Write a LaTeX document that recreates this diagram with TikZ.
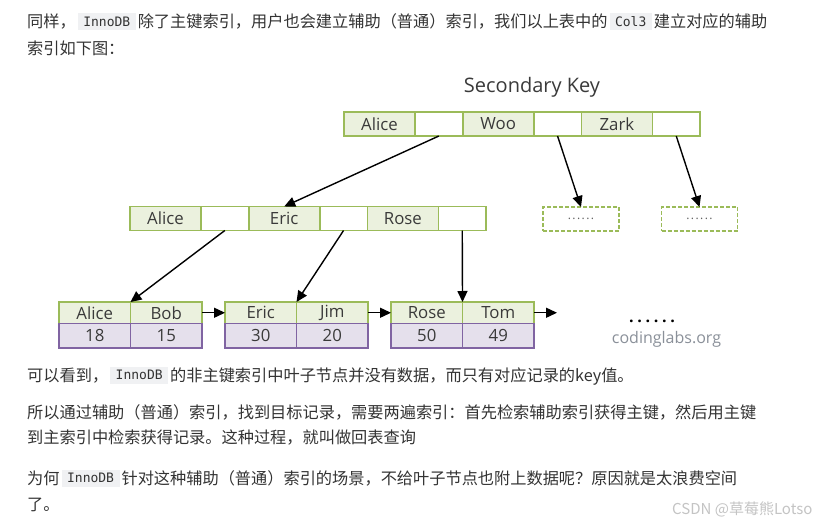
\documentclass[tikz,border=0pt]{standalone}
\usepackage{fontspec}
\setmainfont{Open Sans}
\newfontfamily\cjkfont{Noto Sans CJK SC}
\newfontfamily\monofont{DejaVu Sans Mono}
\newfontfamily\diagfont{Open Sans}
\usetikzlibrary{arrows.meta}
\definecolor{gline}{HTML}{9BBB59}
\definecolor{gfill}{HTML}{EBF1DE}
\definecolor{pline}{HTML}{8064A2}
\definecolor{pfill}{HTML}{E5E0EC}
\definecolor{txt}{HTML}{333333}
\definecolor{codebg}{HTML}{F0F1F3}
\definecolor{dtxt}{HTML}{3A3A3A}
\definecolor{wmcol}{HTML}{C4C4C4}
\definecolor{sitecol}{HTML}{8A9099}
\newcommand{\mycode}[1]{{\setlength{\fboxsep}{0pt}\hspace{2pt}\colorbox{codebg}{\hspace{5.5pt}\rule[-2.3pt]{0pt}{17pt}\raisebox{1.3pt}{\monofont\fontsize{13}{13}\selectfont #1}\hspace{5.5pt}}\hspace{2pt}}}
\tikzset{
  body/.style={anchor=base west, inner sep=0pt, text=txt, font=\cjkfont\fontsize{16.2}{16.2}\selectfont},
  cellbase/.style={draw=gline, line width=1.6pt, minimum height=24pt, inner sep=0pt, outer sep=0pt, anchor=west,
    font=\diagfont\fontsize{16.8}{16.8}\selectfont, text=dtxt},
  keycell/.style={cellbase, fill=gfill, minimum width=71pt},
  ptrcell/.style={cellbase, fill=white, minimum width=47.7pt},
  leafkey/.style={draw=gline, line width=1.6pt, fill=gfill, minimum width=71.5pt, minimum height=21.5pt,
    inner sep=0pt, outer sep=0pt, anchor=north west, font=\diagfont\fontsize{16.8}{16.8}\selectfont, text=dtxt},
  leafval/.style={draw=pline, line width=1.6pt, fill=pfill, minimum width=71.5pt, minimum height=24.5pt,
    inner sep=0pt, outer sep=0pt, anchor=north west, font=\diagfont\fontsize{16.8}{16.8}\selectfont, text=dtxt},
  dashbox/.style={draw=gline, line width=1.6pt, dash pattern=on 4pt off 2pt, minimum width=76pt,
    minimum height=24pt, inner sep=0pt, outer sep=0pt, font=\diagfont\fontsize{12}{12}\selectfont\addfontfeatures{LetterSpace=12}, text=dtxt!80},
  arr/.style={-{Triangle[length=11pt,width=10pt]}, line width=1.4pt, black}
}
\begin{document}
\begin{tikzpicture}[x=1pt,y=-1pt]
\useasboundingbox (0,0) rectangle (821,524);
\fill[white] (0,0) rectangle (821,524);

% paragraph text
\node[body] (p1) at (27,27.9) {同样，\mycode{InnoDB}除了主键索引，用户也会建立辅助（普通）索引，我们以上表中的\mycode{Col3}建立对应的辅助};
\node[body] (p2) at (27,54.2) {索引如下图：};
\node[body] (p3) at (27,381.2) {可以看到，\mycode{InnoDB}的非主键索引中叶子节点并没有数据，而只有对应记录的key值。};
\node[body] (p4) at (27,418.2) {所以通过辅助（普通）索引，找到目标记录，需要两遍索引：首先检索辅助索引获得主键，然后用主键};
\node[body] (p5) at (27,443.2) {到主索引中检索获得记录。这种过程，就叫做回表查询};
\node[body] (p6) at (27,484.2) {为何\mycode{InnoDB}针对这种辅助（普通）索引的场景，不给叶子节点也附上数据呢？原因就是太浪费空间};
\node[body] (p7) at (27,510.7) {了。};
\node[anchor=base west, inner sep=0pt, text=wmcol, font=\cjkfont\fontsize{15}{15}\selectfont] (wm) at (672,514.5) {CSDN @草莓熊Lotso};

% title
\node[font=\diagfont\fontsize{20}{20}\selectfont, text=dtxt] (title) at (532,87) {Secondary Key};

% top row
\node[keycell] (tA) at (344,124) {Alice};
\node[ptrcell] (tp1) at (tA.east) {};
\node[keycell] (tW) at (tp1.east) {Woo};
\node[ptrcell] (tp2) at (tW.east) {};
\node[keycell] (tZ) at (tp2.east) {Zark};
\node[ptrcell] (tp3) at (tZ.east) {};

% middle row
\node[keycell] (mA) at (130,218.5) {Alice};
\node[ptrcell] (mp1) at (mA.east) {};
\node[keycell] (mE) at (mp1.east) {Eric};
\node[ptrcell] (mp2) at (mE.east) {};
\node[keycell] (mR) at (mp2.east) {Rose};
\node[ptrcell] (mp3) at (mR.east) {};

% dashed boxes
\node[dashbox] (d1) at (581,219) {......};
\node[dashbox] (d2) at (699.5,219) {......};

% leaves
\node[leafkey] (l1a) at (59,302) {Alice};
\node[leafkey] (l1b) at (l1a.north east) {Bob};
\node[leafval] (v1a) at (l1a.south west) {18};
\node[leafval] (v1b) at (l1b.south west) {15};

\node[leafkey] (l2a) at (225,302) {Eric};
\node[leafkey] (l2b) at (l2a.north east) {Jim};
\node[leafval] (v2a) at (l2a.south west) {30};
\node[leafval] (v2b) at (l2b.south west) {20};

\node[leafkey] (l3a) at (391,302) {Rose};
\node[leafkey] (l3b) at (l3a.north east) {Tom};
\node[leafval] (v3a) at (l3a.south west) {50};
\node[leafval] (v3b) at (l3b.south west) {49};

\coordinate (out) at (557,312.75);

% dots and site
\node[font=\diagfont\bfseries\fontsize{16}{16}\selectfont\addfontfeatures{LetterSpace=23}, text=black] (dots) at (652,321) {......};
\node[font=\diagfont\fontsize{16}{16}\selectfont, text=sitecol] (site) at (666.5,339) {codinglabs.org};

% connectors
\draw[arr] (tp1.south) -- (mE.north);
\draw[arr] (tp2.south) -- (d1.north);
\draw[arr] (tp3.south) -- (d2.north);
\draw[arr] (mp1.south) -- (l1a.north east);
\draw[arr] (mp2.south) -- (l2a.north east);
\draw[arr] (mp3.south) -- (l3a.north east);
\draw[arr] (l1b.east) -- (l2a.west);
\draw[arr] (l2b.east) -- (l3a.west);
\draw[arr] (l3b.east) -- (out);
\end{tikzpicture}
\end{document}
